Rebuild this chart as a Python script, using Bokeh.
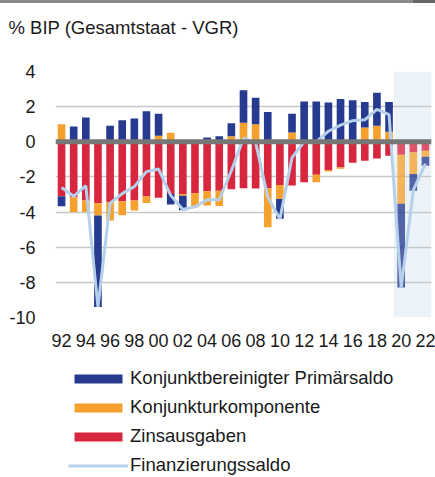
import numpy as np
from bokeh.plotting import figure
from bokeh.layouts import column
from bokeh.models import (ColumnDataSource, FixedTicker, Legend, LegendItem,
                          BoxAnnotation, Span, Div, Title)
from bokeh.embed import file_html
from bokeh.resources import INLINE

# ---------------- data ----------------
years = list(range(1992, 2023))

# Konjunktbereinigter Primärsaldo (dark blue)
primaersaldo = [-0.57, 0.87, 1.38, -5.20, 0.91, 1.23, 1.32, 1.74, 1.25, -0.60,
                -0.83, 0.00, 0.25, 0.32, 0.74, 1.85, 1.51, 1.70, -1.13, 1.07,
                2.29, 2.29, 2.23, 2.43, 2.27, 1.46, 1.88, 1.70, -4.76, -0.94,
                -0.51]
# Konjunkturkomponente (orange)
konjunktur = [1.00, -0.85, -0.66, -0.70, -1.04, -0.80, -0.57, -0.37, 0.34, 0.51,
              -0.10, -0.80, -0.82, -0.88, 0.32, 1.08, 1.00, -2.22, -0.79, 0.53,
              0.00, -0.43, -0.08, -0.08, 0.10, 0.81, 0.91, 0.57, -2.79, -1.24,
              -0.34]
# Zinsausgaben (red)
zinsausgaben = [-3.10, -3.15, -3.34, -3.50, -3.44, -3.38, -3.34, -3.12, -3.19, -2.97,
                -2.97, -2.93, -2.81, -2.78, -2.70, -2.65, -2.66, -2.64, -2.46, -2.49,
                -2.30, -1.87, -1.61, -1.46, -1.19, -1.08, -0.95, -0.80, -0.74, -0.60,
                -0.51]
# Finanzierungssaldo (light blue line)
finanzierungssaldo = [-2.60, -3.10, -2.50, -9.40, -3.50, -2.95, -2.55, -1.70, -1.55, -3.05,
                      -3.85, -3.70, -3.30, -3.30, -1.65, 0.20, -0.05, -3.15, -4.40, -0.90,
                      0.00, 0.00, 0.60, 0.95, 1.20, 1.25, 1.85, 1.55, -8.30, -2.75,
                      -1.25]

tick_years = list(range(1992, 2023, 2))
tick_labels = ["92", "94", "96", "98", "00", "02", "04", "06", "08", "10",
               "12", "14", "16", "18", "20", "22"]
y_ticks = [-10, -8, -6, -4, -2, 0, 2, 4]
y_labels = ["-10", "-8", "-6", "-4", "-2", "0", "2", "4"]
projection_start = 2020

title_text = "% BIP (Gesamtstaat - VGR)"
name_prim = "Konjunktbereinigter Primärsaldo"
name_konj = "Konjunkturkomponente"
name_zins = "Zinsausgaben"
name_fin = "Finanzierungssaldo"

# ---------------- styles ----------------
C_BLUE = "#263a8f"
C_ORANGE = "#f6a12e"
C_RED = "#d8263f"
C_LINE = "#b5d0ea"
C_SHADE = "#ecf3f8"
C_ZERO = "#777777"
C_GRID = "#c8c8c8"
FONT = "Liberation Sans"
W = 435

# ---------------- stacking (positive / negative separately) ----------------
x = np.array(years, dtype=float)
alpha = np.where(x >= projection_start, 0.78, 1.0)
pos = np.zeros(len(years))
neg = np.zeros(len(years))
stacks = {}
for key, vals in (("zins", zinsausgaben), ("konj", konjunktur), ("prim", primaersaldo)):
    v = np.array(vals, dtype=float)
    bottom = np.where(v >= 0, pos, neg + v)
    top = np.where(v >= 0, pos + v, neg)
    pos = pos + np.where(v >= 0, v, 0.0)
    neg = neg + np.where(v < 0, v, 0.0)
    stacks[key] = ColumnDataSource(dict(x=x, bottom=bottom, top=top, alpha=alpha))

rule = Div(text="", width=W, height=3, margin=0,
           styles={"background": "linear-gradient(to right, #8a8a8a 95%, #666666 95%)"})

p = figure(width=W, height=351, x_range=(1991.5, 2022.5), y_range=(-10, 4),
           output_backend="svg", toolbar_location=None,
           min_border_left=55, min_border_right=4, min_border_top=68,
           min_border_bottom=37)
p.outline_line_color = None
p.background_fill_color = "white"
p.border_fill_color = "white"

# title (a thin spacer title keeps the real title away from the frame)
spacer = Title(text=" ", text_font_size="1px", standoff=26)
main_title = Title(text=title_text, text_font=FONT, text_font_size="18.5px",
                   text_font_style="normal", text_color="#1a1a1a",
                   align="left", offset=-47, standoff=10)
p.add_layout(spacer, "above")
p.add_layout(main_title, "above")

# shaded projection period
shade = BoxAnnotation(left=projection_start - 0.6, fill_color=C_SHADE, fill_alpha=1.0,
                      line_color=None, level="image")
p.add_layout(shade)

# grid / axes
p.xgrid.visible = False
p.ygrid.grid_line_color = C_GRID
p.ygrid.grid_line_width = 1.5
p.ygrid.ticker = FixedTicker(ticks=y_ticks)

p.xaxis.ticker = FixedTicker(ticks=tick_years)
p.xaxis.major_label_overrides = {t: l for t, l in zip(tick_years, tick_labels)}
p.yaxis.ticker = FixedTicker(ticks=y_ticks)
p.yaxis.major_label_overrides = {t: l for t, l in zip(y_ticks, y_labels)}
for ax in (p.xaxis[0], p.yaxis[0]):
    ax.axis_line_color = None
    ax.major_tick_line_color = None
    ax.minor_tick_line_color = None
    ax.major_label_text_font = FONT
    ax.major_label_text_font_size = "18px"
    ax.major_label_text_color = "#1a1a1a"
p.xaxis.major_label_standoff = 10
p.yaxis.major_label_standoff = 14

bw = 0.63
r_zins = p.vbar(x="x", bottom="bottom", top="top", width=bw, source=stacks["zins"],
                fill_color=C_RED, fill_alpha="alpha", line_color=None)
r_konj = p.vbar(x="x", bottom="bottom", top="top", width=bw, source=stacks["konj"],
                fill_color=C_ORANGE, fill_alpha="alpha", line_color=None)
r_prim = p.vbar(x="x", bottom="bottom", top="top", width=bw, source=stacks["prim"],
                fill_color=C_BLUE, fill_alpha="alpha", line_color=None)

zero = Span(location=0, dimension="width", line_color=C_ZERO, line_width=5)
p.add_layout(zero)

p.line(x, finanzierungssaldo, line_color=C_LINE, line_width=3)

# ---------------- legend panel (separate figure below the chart) ----------------
lg = figure(width=W, height=123, x_range=(0, 1), y_range=(0, 1),
            output_backend="svg", toolbar_location=None,
            x_axis_type=None, y_axis_type=None,
            min_border_left=41, min_border_right=0, min_border_top=0, min_border_bottom=0)
lg.outline_line_color = None
# proxy glyphs placed outside the visible range, used only for the legend swatches
lg_prim = lg.vbar(x=[-5], top=[-5], width=0.1, fill_color=C_BLUE, line_color=None)
lg_konj = lg.vbar(x=[-5], top=[-5], width=0.1, fill_color=C_ORANGE, line_color=None)
lg_zins = lg.vbar(x=[-5], top=[-5], width=0.1, fill_color=C_RED, line_color=None)
lg_fin = lg.line(x=[-5, -4], y=[-5, -5], line_color=C_LINE, line_width=3)

legend = Legend(items=[LegendItem(label=name_prim, renderers=[lg_prim]),
                       LegendItem(label=name_konj, renderers=[lg_konj]),
                       LegendItem(label=name_zins, renderers=[lg_zins]),
                       LegendItem(label=name_fin, renderers=[lg_fin])],
                location="top_left", orientation="vertical",
                border_line_color=None, background_fill_alpha=0,
                label_text_font=FONT, label_text_font_size="18.5px",
                label_text_color="#1a1a1a",
                glyph_width=60, glyph_height=11, label_standoff=2,
                spacing=7, padding=1, margin=13, label_height=21)
lg.add_layout(legend)

layout = column(rule, p, lg, spacing=0)
open("out.html", "w").write(file_html(layout, INLINE))
